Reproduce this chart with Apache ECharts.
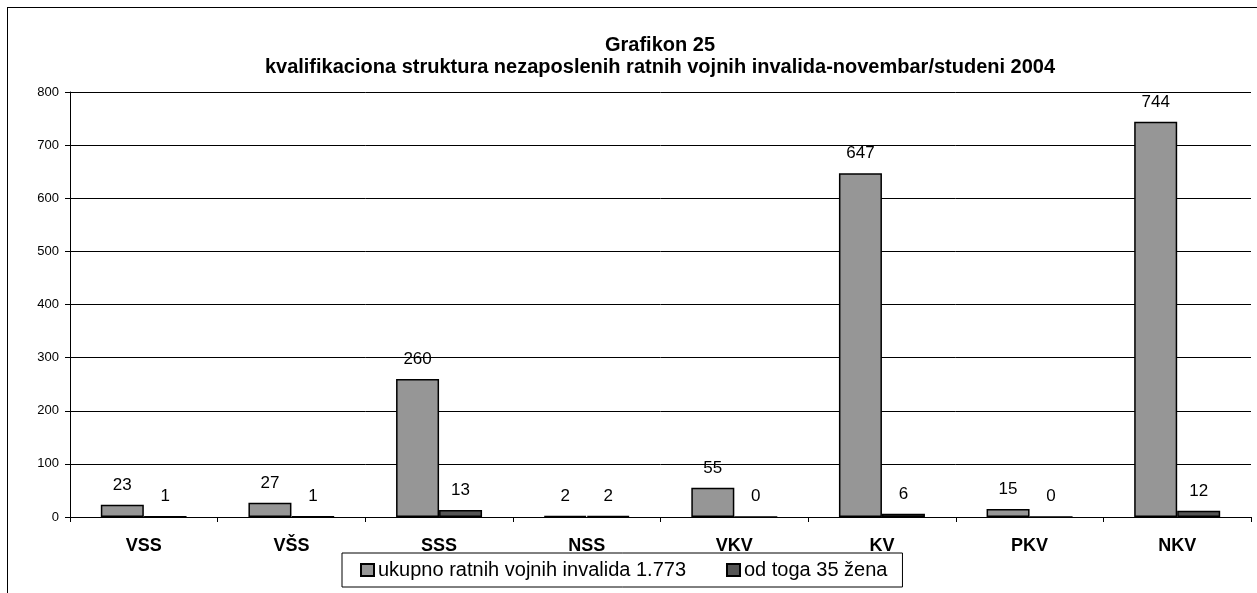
<!DOCTYPE html>
<html>
<head>
<meta charset="utf-8">
<script src="https://cdn.jsdelivr.net/npm/echarts@6/dist/echarts.min.js"></script>
<style>
  html, body { margin: 0; padding: 0; background: #fff; overflow: hidden; }
  #frame {
    position: absolute; left: 7px; top: 7px; width: 1300px; height: 700px;
    border-left: 1px solid #000; border-top: 1px solid #000;
  }
  #chart { position: absolute; left: 0; top: 0; width: 1257px; height: 593px; }
</style>
</head>
<body>
<div id="frame"></div>
<div id="chart"></div>
<script>
const categories = ['VSS', 'VŠS', 'SSS', 'NSS', 'VKV', 'KV', 'PKV', 'NKV'];
const ukupno = [23, 27, 260, 2, 55, 647, 15, 744];
const zene = [1, 1, 13, 2, 0, 6, 0, 12];
const seriesNames = ['ukupno ratnih vojnih invalida 1.773', 'od toga 35 žena'];
const yTicks = [0, 100, 200, 300, 400, 500, 600, 700, 800];

const font = 'Arial, "Liberation Sans", sans-serif';

const myChart = echarts.init(document.getElementById('chart'));

const barLabel = {
  show: true,
  position: 'top',
  distance: 11,
  color: '#000',
  fontSize: 17,
  fontFamily: font
};

myChart.setOption({
  animation: false,
  textStyle: { fontFamily: font },
  title: {
    text: 'Grafikon 25\nkvalifikaciona struktura nezaposlenih ratnih vojnih invalida-novembar/studeni 2004',
    left: 660,
    textAlign: 'center',
    top: 34,
    padding: 0,
    textStyle: { fontSize: 20, fontWeight: 'bold', color: '#000', lineHeight: 22, fontFamily: font }
  },
  grid: { left: 70, right: 6, top: 92, bottom: 76, containLabel: false },
  legend: {
    left: 342,
    top: 553,
    padding: [7, 15, 7, 18],
    itemGap: 40,
    itemWidth: 13,
    itemHeight: 12,
    borderColor: '#000',
    borderWidth: 1,
    icon: 'rect',
    textStyle: { fontSize: 20, color: '#000', fontFamily: font, padding: [0, 0, 0, -1] },
    data: seriesNames
  },
  xAxis: {
    type: 'category',
    data: categories,
    axisLine: { lineStyle: { color: '#000', width: 1 } },
    axisTick: { show: true, length: 5, lineStyle: { color: '#000' } },
    axisLabel: { fontSize: 18, fontWeight: 'bold', color: '#000', margin: 20, fontFamily: font }
  },
  yAxis: {
    type: 'value',
    min: yTicks[0],
    max: yTicks[yTicks.length - 1],
    interval: 100,
    axisLine: { show: true, lineStyle: { color: '#000', width: 1 } },
    axisTick: { show: true, length: 5, lineStyle: { color: '#000' } },
    axisLabel: { fontSize: 13, color: '#000', margin: 11, fontFamily: font },
    splitLine: { show: true, lineStyle: { color: '#000', width: 1 } }
  },
  series: [
    {
      name: seriesNames[0],
      type: 'bar',
      data: ukupno,
      barWidth: 43,
      barGap: '0%',
      itemStyle: { color: '#969696', borderColor: '#000', borderWidth: 1.5 },
      label: barLabel
    },
    {
      name: seriesNames[1],
      type: 'bar',
      data: zene,
      barWidth: 43,
      barGap: '0%',
      itemStyle: { color: '#555555', borderColor: '#000', borderWidth: 1.5 },
      label: barLabel
    }
  ]
});
</script>
</body>
</html>
